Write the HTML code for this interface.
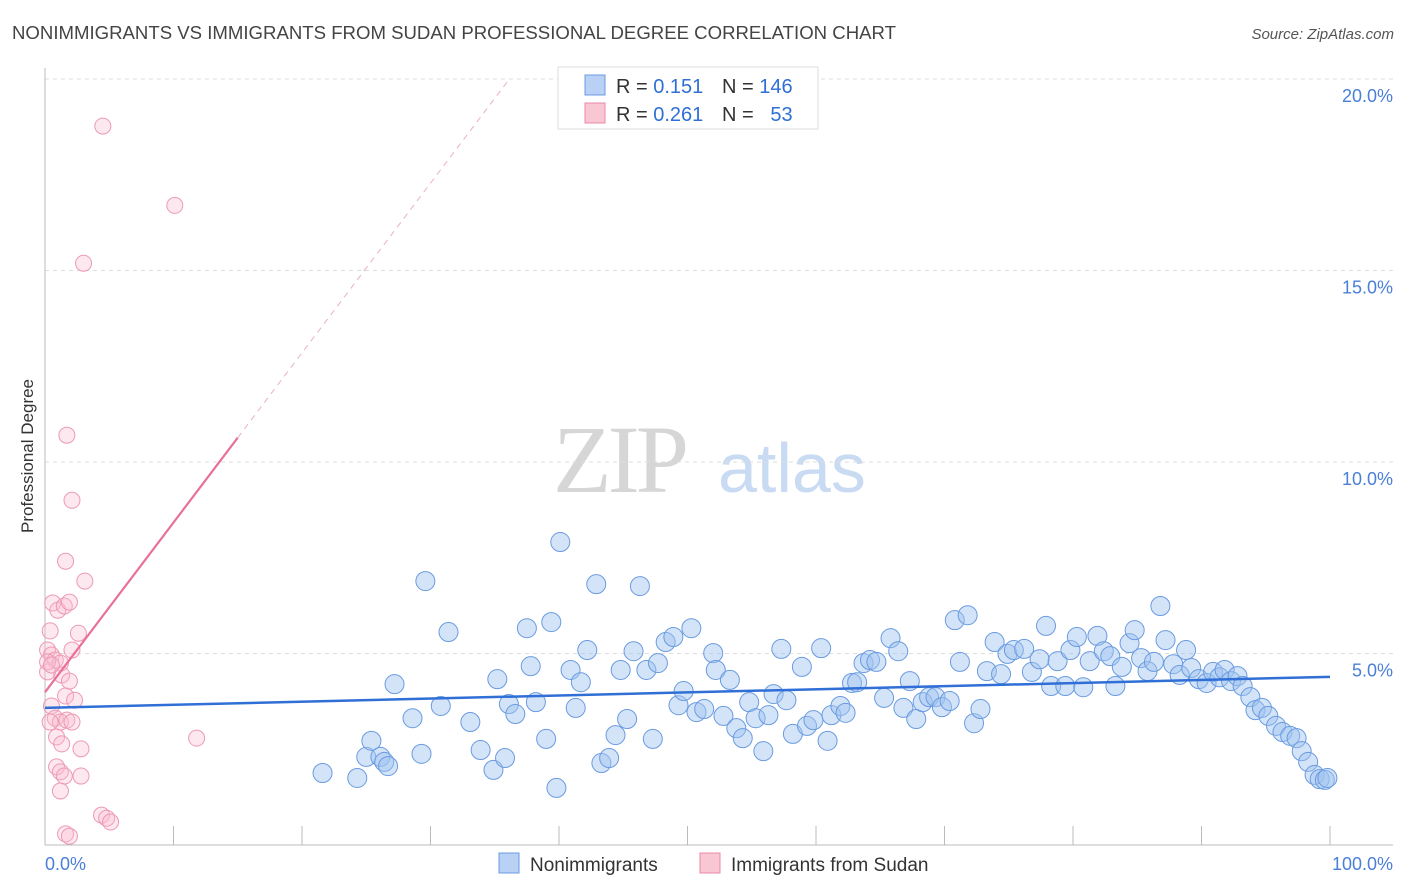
<!DOCTYPE html>
<html><head><meta charset="utf-8"><style>
body{margin:0;background:#fff;width:1406px;height:892px;overflow:hidden;font-family:"Liberation Sans",sans-serif}
svg{display:block}
</style></head><body>
<svg id="c" width="1406" height="892">
<text x="12" y="39" font-size="18.6" fill="#444">NONIMMIGRANTS VS IMMIGRANTS FROM SUDAN PROFESSIONAL DEGREE CORRELATION CHART</text>
<text x="1394" y="39" font-size="15" fill="#555" font-style="italic" text-anchor="end">Source: ZipAtlas.com</text>
<text transform="translate(33,456) rotate(-90)" font-size="17" fill="#333" text-anchor="middle">Professional Degree</text>
<g>
<text x="553" y="492" font-size="96" fill="#d6d6d6" font-family="Liberation Serif,serif" letter-spacing="-4">ZIP</text>
<text x="718" y="492" font-size="70" fill="#c9daf3">atlas</text>
</g>
<g id="grid"></g><g id="marks"></g>
<g>
<rect x="558" y="67" width="260" height="62" fill="#fff" stroke="#ddd"/>
<rect x="585" y="75" width="20" height="20" fill="#b8d1f5" stroke="#6a9be0"/>
<rect x="585" y="103" width="20" height="20" fill="#f9c6d4" stroke="#e98aa8"/>
<text x="616" y="93" font-size="20" fill="#333">R = <tspan fill="#2f6fd6">0.151</tspan></text>
<text x="722" y="93" font-size="20" fill="#333">N = <tspan fill="#2f6fd6">146</tspan></text>
<text x="616" y="121" font-size="20" fill="#333">R = <tspan fill="#2f6fd6">0.261</tspan></text>
<text x="722" y="121" font-size="20" fill="#333">N = <tspan fill="#2f6fd6">&#160;&#160;53</tspan></text>
</g>
<g>
<rect x="499" y="853" width="20" height="20" fill="#b8d1f5" stroke="#6a9be0"/>
<text x="530" y="871" font-size="19" fill="#333">Nonimmigrants</text>
<rect x="700" y="853" width="20" height="20" fill="#f9c6d4" stroke="#e98aa8"/>
<text x="731" y="871" font-size="19" fill="#333">Immigrants from Sudan</text>
</g>
</svg>
<script>
const xTicks=[0,10,20,30,40,50,60,70,80,90,100];
const yTicks=[5,10,15,20];
const yTickLabels=["5.0%","10.0%","15.0%","20.0%"];
const xEndLabels=["0.0%","100.0%"];
const blueX=[21.6,24.3,25.0,25.4,26.1,26.4,26.7,27.2,28.6,29.3,29.6,30.8,31.4,33.1,33.9,34.9,35.2,35.8,36.1,36.6,37.5,37.8,38.2,39.0,39.4,39.8,40.1,40.9,41.3,41.7,42.2,42.9,43.3,43.9,44.4,44.8,45.3,45.8,46.3,46.8,47.3,47.7,48.3,48.9,49.3,49.7,50.3,50.7,51.3,52.0,52.2,52.8,53.3,53.8,54.3,54.8,55.3,55.9,56.3,56.7,57.3,57.7,58.2,58.9,59.3,59.8,60.4,60.9,61.2,61.9,62.3,62.8,63.2,63.7,64.2,64.7,65.3,65.8,66.4,66.8,67.3,67.8,68.3,68.8,69.3,69.8,70.4,70.8,71.2,71.8,72.3,72.8,73.3,73.9,74.4,74.9,75.4,76.2,76.8,77.4,77.9,78.3,78.8,79.4,79.8,80.3,80.8,81.3,81.9,82.4,82.9,83.3,83.8,84.4,84.8,85.3,85.8,86.3,86.8,87.2,87.8,88.3,88.8,89.2,89.8,90.4,90.9,91.4,91.8,92.3,92.8,93.2,93.8,94.2,94.7,95.2,95.8,96.3,96.9,97.4,97.8,98.3,98.8,99.2,99.6,99.8];
const blueY=[1.88,1.75,2.30,2.72,2.30,2.17,2.06,4.20,3.31,2.38,6.89,3.63,5.56,3.21,2.48,1.96,4.33,2.27,3.68,3.42,5.66,4.67,3.73,2.77,5.82,1.49,7.91,4.57,3.58,4.25,5.09,6.81,2.14,2.27,2.87,4.57,3.29,5.06,6.76,4.57,2.77,4.75,5.30,5.43,3.65,4.02,5.66,3.47,3.55,5.01,4.57,3.37,4.31,3.05,2.79,3.73,3.31,2.45,3.39,3.94,5.12,3.78,2.90,4.65,3.11,3.26,5.14,2.72,3.39,3.63,3.45,4.23,4.25,4.75,4.83,4.78,3.84,5.40,5.06,3.58,4.28,3.29,3.73,3.86,3.86,3.60,3.76,5.87,4.78,6.00,3.18,3.55,4.54,5.30,4.46,4.99,5.09,5.12,4.52,4.85,5.72,4.15,4.80,4.15,5.09,5.43,4.12,4.80,5.46,5.06,4.93,4.15,4.65,5.27,5.61,4.88,4.54,4.78,6.24,5.35,4.72,4.44,5.09,4.62,4.33,4.23,4.52,4.38,4.57,4.28,4.41,4.15,3.86,3.52,3.58,3.37,3.11,2.95,2.85,2.79,2.45,2.17,1.83,1.72,1.70,1.75];
const pinkX=[4.5,10.1,3.0,1.7,2.1,1.6,3.1,0.6,1.0,1.5,1.9,0.4,2.6,0.2,0.5,0.8,1.2,2.1,0.2,1.3,1.9,1.6,2.3,0.5,0.8,1.2,1.7,2.1,0.4,0.9,1.3,2.8,0.9,1.2,1.5,2.8,1.2,11.8,4.4,4.8,5.1,1.6,1.9,0.2,0.5];
const pinkY=[18.77,16.7,15.19,10.70,9.00,7.41,6.89,6.32,6.13,6.24,6.34,5.59,5.53,5.09,4.96,4.83,4.75,5.09,4.52,4.44,4.28,3.89,3.78,3.63,3.31,3.21,3.26,3.21,3.21,2.82,2.64,2.51,2.04,1.91,1.80,1.80,1.41,2.79,0.78,0.70,0.60,0.29,0.23,4.78,4.70];
const blueTrend=[3.58,4.39];
const pinkTrend=[3.99,0.443];
const pinkSolidEnd=15;

const X=v=>45+v*12.85, Y=v=>845-v*38.3;
const NS="http://www.w3.org/2000/svg";
function mk(p,t,a){const e=document.createElementNS(NS,t);for(const k in a)e.setAttribute(k,a[k]);p.appendChild(e);return e;}
const g=document.getElementById('grid'), m=document.getElementById('marks');
yTicks.forEach((t,i)=>{
 const l=mk(g,'line',{x1:45,x2:1393,y1:Y(t),y2:Y(t),stroke:'#ddd','stroke-dasharray':'4,4'});
 
 
 const tx=mk(g,'text',{x:1393,y:Y(t)+23,'text-anchor':'end','font-size':18,fill:'#4a7fd8'});
 tx.textContent=yTickLabels[i];
 
 
});
const ax=mk(g,'line',{x1:45,x2:45,y1:68,y2:845,stroke:'#bbb'});


const bx=mk(g,'line',{x1:45,x2:1393,y1:845,y2:845,stroke:'#bbb'});


xTicks.forEach(t=>{
 const l=mk(g,'line',{x1:X(t),x2:X(t),y1:826,y2:845,stroke:'#bbb'});
 
 
});
[[0,'start',45],[100,'end',1393]].forEach((d,i)=>{
 const tx=mk(g,'text',{x:d[2],y:870,'text-anchor':d[1],'font-size':18,fill:'#4a7fd8'});
 tx.textContent=xEndLabels[i];
 
 
});
blueX.forEach((x,i)=>{
 const c=mk(m,'circle',{cx:X(x),cy:Y(blueY[i]),r:9.5,fill:'rgba(160,196,240,0.45)',stroke:'#6a9be0','stroke-width':1});
 
 
});
pinkX.forEach((x,i)=>{
 const c=mk(m,'circle',{cx:X(x),cy:Y(pinkY[i]),r:8,fill:'rgba(249,190,208,0.35)',stroke:'#ec9ab3','stroke-width':1});
 
 
});
const bl=mk(m,'line',{x1:X(0),y1:Y(blueTrend[0]),x2:X(100),y2:Y(blueTrend[1]),stroke:'#2f6fd6','stroke-width':2.5});


const pe=(20-pinkTrend[0])/pinkTrend[1];
const pl=mk(m,'line',{x1:X(0),y1:Y(pinkTrend[0]),x2:X(pinkSolidEnd),y2:Y(pinkTrend[0]+pinkTrend[1]*pinkSolidEnd),stroke:'#e8709a','stroke-width':2.2});


const pd=mk(m,'line',{x1:X(pinkSolidEnd),y1:Y(pinkTrend[0]+pinkTrend[1]*pinkSolidEnd),x2:X(pe),y2:Y(20),stroke:'#eab0c2','stroke-width':1,'stroke-dasharray':'6,5'});


</script>
</body></html>
